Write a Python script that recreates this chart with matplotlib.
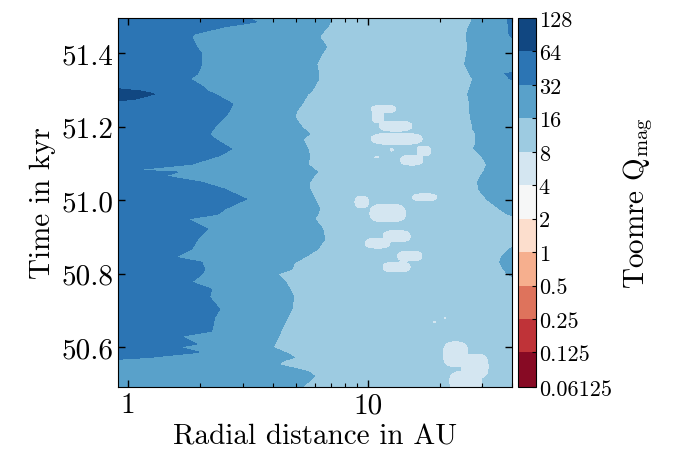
import numpy as np
import matplotlib
matplotlib.use('Agg')
from matplotlib import pyplot as plt
from matplotlib.colors import LogNorm
from matplotlib.ticker import FuncFormatter, NullFormatter, FixedLocator

plt.rcParams['font.family'] = 'serif'
plt.rcParams['font.serif'] = ['cmr10', 'DejaVu Serif']
plt.rcParams['mathtext.fontset'] = 'cm'
plt.rcParams['axes.formatter.use_mathtext'] = True

# contour levels of Toomre Q and their colorbar labels
levels = [0.06125, 0.125, 0.25, 0.5, 1, 2, 4, 8, 16, 32, 64, 128]
level_labels = ['0.06125', '0.125', '0.25', '0.5', '1', '2', '4', '8', '16', '32', '64', '128']

# time rows (kyr), read top to bottom
t_rows = [51.500, 51.485, 51.472, 51.453, 51.444, 51.417, 51.398, 51.371, 51.344, 51.330,
          51.311, 51.297, 51.289, 51.275, 51.262, 51.243, 51.226, 51.199, 51.180, 51.167,
          51.139, 51.120, 51.098, 51.082, 51.077, 51.066, 51.049, 51.030, 51.003, 50.976,
          50.962, 50.949, 50.921, 50.894, 50.867, 50.845, 50.831, 50.812, 50.799, 50.777,
          50.758, 50.736, 50.703, 50.682, 50.643, 50.630, 50.608, 50.600, 50.586, 50.572,
          50.564, 50.553, 50.534, 50.521, 50.490]
# radius (AU) where Q drops below 64 (<=0.7 means no Q>64 region)
r_q64 = [0.7, 0.7, 0.7, 0.7, 0.7, 0.7, 0.7, 0.7, 0.7, 0.7,
         0.7, 1.15, 1.29, 1.08, 0.7, 0.7, 0.7, 0.7, 0.7, 0.7,
         0.7, 0.7, 0.7, 0.7, 0.7, 0.7, 0.7, 0.7, 0.7, 0.7,
         0.7, 0.7, 0.7, 0.7, 0.7, 0.7, 0.7, 0.7, 0.7, 0.7,
         0.7, 0.7, 0.7, 0.7, 0.7, 0.7, 0.7, 0.7, 0.7, 0.7,
         0.7, 0.7, 0.7, 0.7, 0.7]
# radius (AU) where Q drops below 32
r_q32 = [3.06, 3.44, 2.53, 1.90, 1.84, 1.93, 2.03, 2.03, 1.95, 1.81,
         2.03, 2.15, 2.30, 2.51, 2.73, 2.65, 2.53, 2.30, 2.19, 2.30,
         2.71, 2.37, 1.84, 1.04, 1.61, 1.42, 2.03, 2.53, 3.12, 2.53,
         2.37, 1.77, 2.15, 1.95, 1.84, 1.57, 2.03, 2.09, 2.03, 1.84,
         2.23, 2.19, 2.41, 2.30, 2.23, 1.67, 1.93, 1.64, 1.99, 1.21,
         0.75, 0.75, 0.75, 0.75, 0.75]
# radius (AU) where Q drops below 16
r_q16 = [7.06, 6.95, 6.79, 6.41, 6.29, 6.73, 6.41, 6.11, 6.23, 6.23,
         6.00, 5.83, 5.61, 5.45, 5.30, 5.05, 4.95, 5.30, 5.72, 5.35,
         5.61, 5.72, 5.61, 6.00, 6.17, 5.94, 5.72, 5.72, 6.00, 6.29,
         6.17, 6.00, 6.48, 6.60, 6.17, 5.45, 4.95, 4.81, 4.21, 4.54,
         4.72, 4.90, 4.81, 4.63, 4.33, 4.25, 4.09, 3.97, 4.50, 4.95,
         4.50, 4.21, 5.61, 6.00, 5.30]
# outer radius (AU) where Q rises above 16 again (45 = beyond the plot)
r_q16_out = [27.05, 27.0, 26.28, 25.78, 25.78, 26.03, 25.78, 25.29, 26.53, 27.31,
             26.79, 26.28, 26.03, 26.28, 26.53, 26.53, 26.79, 27.31, 27.05, 26.03,
             27.84, 29.77, 31.23, 30.64, 30.35, 29.49, 28.65, 28.93, 31.23, 35.39,
             38.20, 45, 45, 45, 38.94, 36.07, 35.39, 36.76, 38.20, 45,
             45, 45, 45, 45, 45, 45, 45, 45, 45, 45,
             45, 45, 45, 45, 45]
# outer radius (AU) where Q rises above 32 again (60 = beyond the plot)
r_q32_out = [38.3, 38.3, 38.4, 38.6, 39.5, 60, 60, 60, 37.1, 39.0,
             60, 60, 60, 60, 60, 60, 60, 60, 60, 60,
             60, 60, 60, 60, 60, 60, 60, 60, 60, 60,
             60, 60, 60, 60, 60, 60, 60, 60, 60, 60,
             60, 60, 60, 60, 60, 60, 60, 60, 60, 60,
             60, 60, 60, 60, 60]

# patches with Q < 8: centre radius (AU), centre time (kyr), half widths (dex, kyr)
blob_r = [11.63, 10.98, 13.04, 13.17, 17.07, 15.21, 10.87, 12.55, 9.41, 12.08,
          17.23, 13.17, 10.98, 14.92, 13.17, 18.96, 20.87, 23.20, 27.84, 25.53]
blob_t = [51.248, 51.229, 51.202, 51.167, 51.134, 51.109, 51.117, 51.137, 50.995, 50.965,
          51.008, 50.902, 50.883, 50.848, 50.818, 50.668, 50.679, 50.581, 50.548, 50.507]
blob_wr = [0.055, 0.028, 0.072, 0.110, 0.032, 0.050, 0.013, 0.011, 0.032, 0.078,
           0.055, 0.060, 0.055, 0.055, 0.060, 0.009, 0.007, 0.055, 0.060, 0.070]
blob_wt = [0.013, 0.021, 0.016, 0.018, 0.016, 0.016, 0.004, 0.006, 0.018, 0.027,
           0.012, 0.018, 0.016, 0.016, 0.016, 0.004, 0.004, 0.036, 0.036, 0.030]

# build the log2(Q) map on a fine grid
r = np.logspace(np.log10(0.88), np.log10(41), 800)
t = np.linspace(50.49, 51.5, 700)
lr = np.log10(r)
tr = np.array(t_rows)[::-1]
def rowint(v):
    return np.interp(t, tr, np.log10(np.array(v)[::-1]))
l64, l32, l16, lout, l32out = (rowint(r_q64), rowint(r_q32), rowint(r_q16),
                               rowint(r_q16_out), rowint(r_q32_out))

logq = np.empty((len(t), len(r)))
for i in range(len(t)):
    mid = 0.5 * (l16[i] + lout[i])
    xs = [np.log10(0.6), l64[i], l32[i], l16[i], mid, lout[i], l32out[i], np.log10(90)]
    vs = [6.2, 6.0, 5.0, 4.0, 3.5, 4.0, 5.0, 5.3]
    logq[i] = np.interp(lr, xs, vs)

LR, T = np.meshgrid(lr, t)
qmin = np.full_like(logq, 1e9)
for br, bt, wr, wt in zip(blob_r, blob_t, blob_wr, blob_wt):
    # rounded-box shaped patch
    q = np.abs((LR - np.log10(br)) / wr) ** 3 + np.abs((T - bt) / wt) ** 3
    qmin = np.minimum(qmin, q)
logq = np.minimum(logq, 3 + 0.5 * (np.cbrt(qmin) - 1))
Q = 2.0 ** logq

fig = plt.figure(figsize=(6.76, 4.52), dpi=100)
ax = fig.add_axes([0.175, 0.142, 0.583, 0.816])
cax = fig.add_axes([0.767, 0.142, 0.026, 0.816])

cs = ax.contourf(r, t, Q, levels=levels, cmap='RdBu',
                 norm=LogNorm(vmin=levels[0], vmax=levels[-1]))
ax.set_xscale('log')
ax.set_xlim(0.91, 40)
ax.set_ylim(50.492, 51.496)
ax.xaxis.set_major_formatter(FuncFormatter(lambda v, p: f'{v:g}'))
ax.xaxis.set_minor_formatter(NullFormatter())
ax.yaxis.set_major_locator(FixedLocator([50.6, 50.8, 51.0, 51.2, 51.4]))
ax.yaxis.set_major_formatter(FuncFormatter(lambda v, p: f'{v:.1f}'))
ax.tick_params(which='both', direction='in', top=True, right=True, labelsize=21)
ax.tick_params(which='major', length=5, width=1)
ax.tick_params(which='minor', length=3, width=0.8)
ax.set_xlabel('Radial distance in AU', fontsize=21, labelpad=4)
ax.set_ylabel('Time in kyr', fontsize=21)

cb = fig.colorbar(cs, cax=cax, ticks=levels)
cb.minorticks_off()
cb.set_ticklabels(level_labels)
cax.tick_params(direction='in', length=3, labelsize=16, pad=2)
cb.set_label('Toomre Q$_{\\mathrm{mag}}$', fontsize=21, labelpad=7)

fig.savefig('out.png', dpi=100)
